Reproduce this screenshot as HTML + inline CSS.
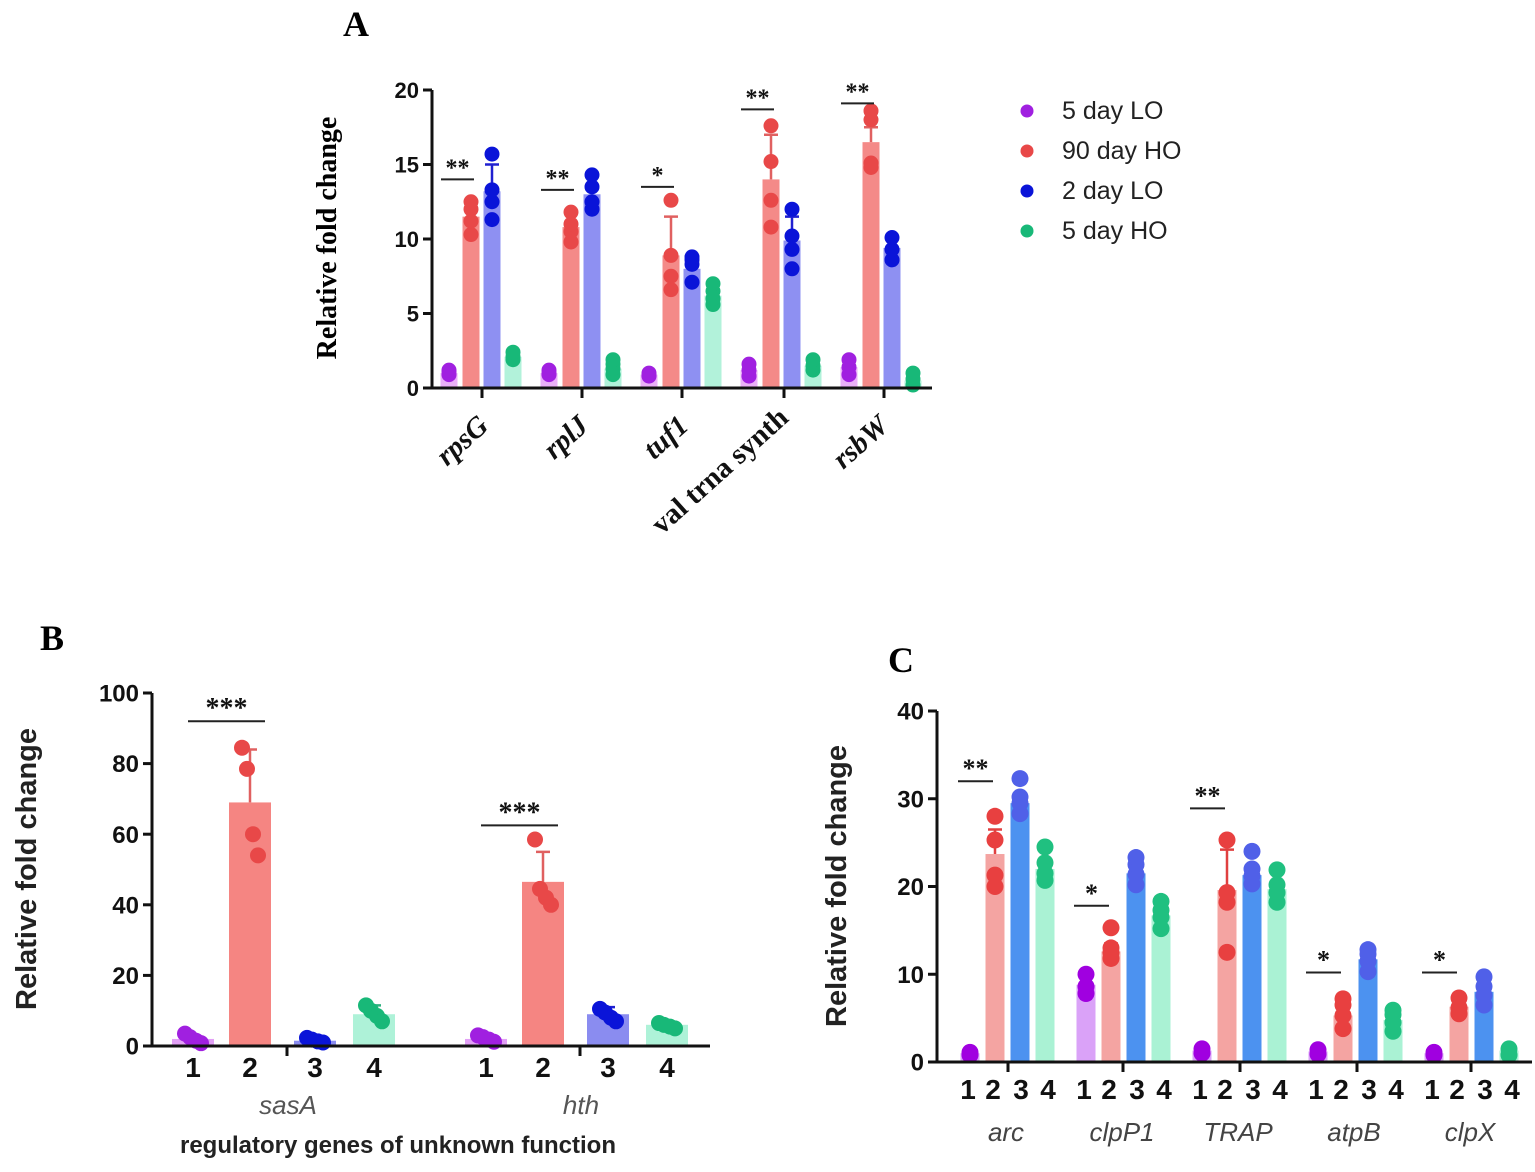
<!DOCTYPE html>
<html><head><meta charset="utf-8"><style>
html,body{margin:0;padding:0;background:#fff;}
svg{display:block;}
.tk{font-family:"Liberation Sans",sans-serif;font-weight:bold;fill:#111;}
</style></head><body>
<svg id="fig" width="1535" height="1172" viewBox="0 0 1535 1172" xmlns="http://www.w3.org/2000/svg">
<rect width="1535" height="1172" fill="#fff"/>
<text x="343" y="36" font-family="Liberation Serif,serif" font-weight="bold" font-size="36">A</text>
<text x="40" y="650" font-family="Liberation Serif,serif" font-weight="bold" font-size="36">B</text>
<text x="888" y="672" font-family="Liberation Serif,serif" font-weight="bold" font-size="36">C</text>
<text transform="translate(336,238) rotate(-90)" text-anchor="middle" font-family="Liberation Serif,serif" font-weight="bold" font-size="28">Relative fold change</text>
<text transform="translate(36,869) rotate(-90)" text-anchor="middle" font-family="Liberation Sans,sans-serif" font-weight="bold" font-size="29" fill="#222">Relative fold change</text>
<text transform="translate(846,886) rotate(-90)" text-anchor="middle" font-family="Liberation Sans,sans-serif" font-weight="bold" font-size="29" fill="#222">Relative fold change</text>
<text x="398" y="1153" text-anchor="middle" font-family="Liberation Sans,sans-serif" font-weight="bold" font-size="24" fill="#222">regulatory genes of unknown function</text>
<g id="legend"></g>
<g id="pa"></g>
<g id="pb"></g>
<g id="pc"></g>
</svg>
<script>
// ---------- Panel A data ----------
const aCats = ["rpsG","rplJ","tuf1","val trna synth","rsbW"];
const aTicks = [0,5,10,15,20];
const aSeries = ["5 day LO","90 day HO","2 day LO","5 day HO"];
const aMean5LO = [1.0,1.0,0.9,1.2,1.4];
const aMean90HO = [11.5,10.8,8.9,14.0,16.5];
const aMean2LO = [13.2,13.0,8.0,9.9,9.4];
const aMean5HO = [2.1,1.3,6.2,1.5,0.5];
const aErr90HO = [11.5,10.8,11.5,17.0,17.5];
const aErr2LO = [15.0,13.0,8.0,11.5,9.4];
const aDots5LO = [[0.9,1.1,1.2],[0.9,1.0,1.2],[0.8,0.9,1.0],[0.8,1.2,1.6],[0.9,1.4,1.9]];
const aDots90HO = [[10.3,11.2,12.0,12.5],[9.8,10.5,11.0,11.8],[6.6,7.5,8.9,12.6],[10.8,12.6,15.2,17.6],[14.8,15.1,18.0,18.6]];
const aDots2LO = [[11.3,12.5,13.3,15.7],[12.0,12.5,13.5,14.3],[7.1,8.3,8.6,8.8],[8.0,9.3,10.2,12.0],[8.6,9.3,10.1]];
const aDots5HO = [[1.9,2.1,2.4],[0.9,1.3,1.6,1.9],[5.6,6.0,6.5,7.0],[1.2,1.5,1.9],[0.2,0.6,1.0]];
const aSigLevel = [14.0,13.3,13.5,18.7,19.1];
const aSigText = ["**","**","*","**","**"];

// ---------- Panel B data ----------
const bCats = ["sasA","hth"];
const bTicks = [0,20,40,60,80,100];
const bMean1 = [2.0,2.0];
const bMean2 = [69.0,46.5];
const bMean3 = [1.5,9.0];
const bMean4 = [9.0,6.0];
const bErr2 = [84.0,55.0];
const bErr3 = [1.5,11.0];
const bErr4 = [11.5,6.0];
const bDots1 = [[3.5,2.5,1.5,0.8],[3.0,2.5,1.8,1.2]];
const bDots2 = [[84.5,78.5,60.0,54.0],[58.5,44.5,42.0,40.0]];
const bDots3 = [[2.3,1.8,1.3,1.0],[10.5,9.5,8.0,7.0]];
const bDots4 = [[11.5,10.0,8.5,7.0],[6.5,6.0,5.5,5.0]];
const bSigLevel = [92,62.5];
const bSigText = ["***","***"];

// ---------- Panel C data ----------
const cCats = ["arc","clpP1","TRAP","atpB","clpX"];
const cTicks = [0,10,20,30,40];
const cMean1 = [1.0,8.8,1.3,1.2,1.0];
const cMean2 = [23.7,12.6,19.6,5.3,6.3];
const cMean3 = [29.5,21.5,21.3,11.7,8.0];
const cMean4 = [22.0,16.7,19.7,4.8,1.3];
const cErr2 = [26.5,13.5,24.2,5.3,6.3];
const cDots1 = [[0.8,1.1],[7.8,8.6,10.0],[1.0,1.5],[0.9,1.4],[0.8,1.1]];
const cDots2 = [[20.0,21.3,25.3,28.0],[11.8,12.5,13.0,15.3],[12.5,18.2,19.3,25.3],[3.8,5.3,6.5,7.2],[5.5,6.2,7.3]];
const cDots3 = [[28.3,29.5,30.2,32.3],[20.2,21.4,22.5,23.3],[20.3,21.2,22.0,24.0],[10.3,11.5,12.3,12.8],[6.5,7.6,8.6,9.7]];
const cDots4 = [[20.7,21.5,22.7,24.5],[15.2,16.5,17.3,18.3],[18.2,19.3,20.2,21.9],[3.5,4.5,5.4,5.9],[0.8,1.5]];
const cSigLevel = [32,17.8,28.9,10.2,10.2];
const cSigText = ["**","*","**","*","*"];

const NS="http://www.w3.org/2000/svg";
function mk(parent,tag,attrs){const e=document.createElementNS(NS,tag);for(const k in attrs)e.setAttribute(k,attrs[k]);parent.appendChild(e);return e;}

function drawPanel(g,cfg){
  const y=v=>cfg.y0-(v/cfg.vmax)*(cfg.y0-cfg.yTop);
  const gx=i=>cfg.g0+i*cfg.gs;
  cfg.means.forEach((arr,s)=>{
    arr.forEach((v,i)=>{
      const cx=gx(i)+cfg.off[s];
      const r=mk(g,'rect',{x:cx-cfg.bw/2,y:y(v),width:cfg.bw,height:cfg.y0-y(v),fill:cfg.barCol[s]});
      
      
      const e=cfg.errs[s];
      if(e&&e[i]>v){
        const l=mk(g,'path',{d:`M${cx} ${y(v)}V${y(e[i])}M${cx-7} ${y(e[i])}H${cx+7}`,stroke:cfg.errCol[s],'stroke-width':2.5,fill:'none'});
        
        
      }
    });
  });
  cfg.dots.forEach((arr,s)=>{
    arr.forEach((pts,i)=>{
      const cx=gx(i)+cfg.off[s];
      pts.forEach((v,k)=>{
        const dx=(cfg.jit?cfg.jit[k%cfg.jit.length]:0);
        const c=mk(g,'circle',{cx:cx+dx,cy:y(v),r:cfg.r,fill:cfg.dotCol[s]});
        
        
      });
    });
  });
  const ax=mk(g,'path',{d:`M${cfg.x0} ${cfg.yTop}V${cfg.y0}H${cfg.x1}`,stroke:'#111','stroke-width':3,fill:'none'});
  
  
  cfg.ticks.forEach(t=>{
    const tl=mk(g,'line',{x1:cfg.x0-9,x2:cfg.x0,y1:y(t),y2:y(t),stroke:'#111','stroke-width':3});
    
    
    const tx=mk(g,'text',{x:cfg.x0-13,y:y(t)+cfg.tfs*0.36,'text-anchor':'end','font-size':cfg.tfs,class:'tk'});
    tx.textContent=t;
    
    
  });
  cfg.xTicks.forEach(xt=>{
    const l=mk(g,'line',{x1:xt,x2:xt,y1:cfg.y0,y2:cfg.y0+10,stroke:'#111','stroke-width':3});
    
    
  });
  cfg.sig.forEach((v,i)=>{
    const xa=gx(i)+cfg.sigX[0],xb=gx(i)+cfg.sigX[1];
    const l=mk(g,'line',{x1:xa,x2:xb,y1:y(v),y2:y(v),stroke:'#222','stroke-width':2});
    
    
    const t=mk(g,'text',{x:(xa+xb)/2,y:y(v)-4,'text-anchor':'middle','font-size':cfg.sfs,'font-family':'Liberation Serif,serif','font-weight':'bold',fill:'#111'});
    t.textContent=cfg.sigT[i];
    
    
  });
  return {gx,y};
}

// Panel A
const pa=document.getElementById('pa');
const A=drawPanel(pa,{id:'a',x0:432,x1:932,y0:388,yTop:90,vmax:20,g0:482,gs:100,off:[-33,-11,10,31],bw:17,r:7.5,
  means:[aMean5LO,aMean90HO,aMean2LO,aMean5HO],errs:[null,aErr90HO,aErr2LO,null],
  dots:[aDots5LO,aDots90HO,aDots2LO,aDots5HO],
  barCol:['#eab0f8','#f48a88','#8e90f2','#b2f2da'],errCol:['#c070e0','#e06060','#2020d0','#40c090'],
  dotCol:['#a020e0','#e84848','#0a14d8','#18b878'],
  ticks:aTicks,tfs:22,xTicks:[482,582,682,784,884],sig:aSigLevel,sigT:aSigText,sigX:[-41,-8],sfs:24});
aCats.forEach((c,i)=>{
  const x=A.gx(i)+8, yy=i===3?420:428;
  const t=mk(pa,'text',{transform:`translate(${x},${yy}) rotate(-42)`,'text-anchor':'end','font-family':'Liberation Serif,serif','font-weight':'bold','font-style':i===3?'normal':'italic','font-size':29,fill:'#111'});
  t.textContent=c;
  
  
});

// Panel B
const pb=document.getElementById('pb');
const B=drawPanel(pb,{id:'b',x0:152,x1:710,y0:1046,yTop:693,vmax:100,g0:283,gs:293,off:[-90,-33,32,91],bw:42,r:8,
  means:[bMean1,bMean2,bMean3,bMean4],errs:[null,bErr2,bErr3,bErr4],
  dots:[bDots1,bDots2,bDots3,bDots4],
  barCol:['#e2a0f6','#f58582','#8a8cf0','#aef2d8'],errCol:['#b060e0','#e06060','#2020d0','#30b080'],
  dotCol:['#a020e0','#e84848','#0a14d8','#18b878'],
  ticks:bTicks,tfs:24,xTicks:[287,580],sig:bSigLevel,sigT:bSigText,sigX:[-95,-18],sfs:28,jit:[-8,-3,3,8]});
bCats.forEach((c,i)=>{
  ["1","2","3","4"].forEach((n,s)=>{
    const t=mk(pb,'text',{x:B.gx(i)+[-90,-33,32,91][s],y:1077,'text-anchor':'middle','font-size':28,class:'tk'});
    t.textContent=n;
    
    
  });
  const t=mk(pb,'text',{x:B.gx(i)+5,y:1114,'text-anchor':'middle','font-family':'Liberation Sans,sans-serif','font-style':'italic','font-size':26,fill:'#555'});
  t.textContent=c;
  
  
});

// Panel C
const pc=document.getElementById('pc');
const C=drawPanel(pc,{id:'c',x0:937,x1:1532,y0:1062,yTop:711,vmax:40,g0:1008,gs:116,off:[-38,-13,12,37],bw:19,r:8.5,
  means:[cMean1,cMean2,cMean3,cMean4],errs:[null,cErr2,null,null],
  dots:[cDots1,cDots2,cDots3,cDots4],
  barCol:['#daa2f8','#f4a4a2','#4c92f0','#aaf2d4'],errCol:['#a000e0','#e04040','#3060e0','#20c080'],
  dotCol:['#a000e0','#e84040','#5060e8','#20c080'],
  ticks:cTicks,tfs:24,xTicks:[1008,1123,1240,1357,1471],sig:cSigLevel,sigT:cSigText,sigX:[-50,-15],sfs:26});
cCats.forEach((c,i)=>{
  ["1","2","3","4"].forEach((n,s)=>{
    const t=mk(pc,'text',{x:C.gx(i)+[-40,-15,13,40][s],y:1099,'text-anchor':'middle','font-size':28,class:'tk'});
    t.textContent=n;
    
    
  });
  const t=mk(pc,'text',{x:C.gx(i)-2,y:1141,'text-anchor':'middle','font-family':'Liberation Sans,sans-serif','font-style':'italic','font-size':26,fill:'#444'});
  t.textContent=c;
  
  
});

// Legend
const lg=document.getElementById('legend');
const lgCols=['#a020e0','#e84848','#0a14d8','#18b878'];
aSeries.forEach((s,i)=>{
  const c=mk(lg,'circle',{cx:1027,cy:111+i*40,r:6.5,fill:lgCols[i]});
  
  
  const t=mk(lg,'text',{x:1062,y:119+i*40,'font-family':'Liberation Sans,sans-serif','font-size':25,fill:'#222'});
  t.textContent=s;
  
  
});
</script>
</body></html>
